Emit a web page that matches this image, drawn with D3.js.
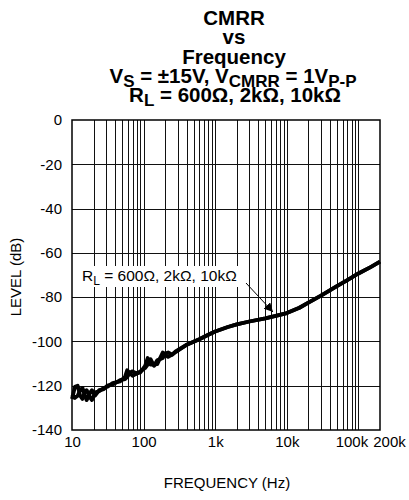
<!DOCTYPE html>
<html><head><meta charset="utf-8">
<script src="https://cdn.jsdelivr.net/npm/d3@7"></script>
<style>body{margin:0;background:#fff}svg{display:block;font-family:"Liberation Sans",Arial,sans-serif}</style>
</head><body><div id="chart"></div>
<script>
const freqHz = [10,11,12,13,14,15,16,18,19,21,24,28,31,37,47,55,59,65,70,80,90,105,114,125,140,155,170,185,200,220,250,280,400,600,800,1000,1500,2000,3000,5000,7000,10000,15000,20000,30000,50000,70000,100000,150000,200000];
const levelA = [-126,-120.5,-120,-124.5,-126,-123,-122,-125.5,-126.5,-123,-122.5,-121,-120.5,-118.8,-118,-116,-113,-114.5,-115.5,-114.5,-114,-111,-107.5,-110.5,-110.5,-110.3,-107.5,-105,-106,-107,-106,-104.5,-101.5,-99,-97,-95.5,-93.5,-92.3,-91,-89.6,-88.5,-87.2,-84.8,-82.5,-79.3,-75,-72.3,-69.3,-66.3,-64];
const levelB = [-124,-125.5,-124.5,-122,-121,-124,-126.5,-123,-122,-124.5,-122,-121.5,-120,-119.5,-117.5,-117,-116,-114,-113.5,-114.5,-113.5,-112,-110.5,-108,-111,-108.5,-108,-107.5,-105.5,-105,-106,-104.8,-101.5,-99,-97,-95.5,-93.5,-92.3,-91,-89.6,-88.5,-87.2,-84.8,-82.5,-79.3,-75,-72.3,-69.3,-66.3,-64];
const xTickValues = [10,100,1000,10000,100000,200000];
const xTickLabels = ["10","100","1k","10k","100k","200k"];
const yTickValues = [0,-20,-40,-60,-80,-100,-120,-140];
const titleLines = ["CMRR","vs","Frequency"];

const W=409,H=500;
const svg=d3.select("#chart").append("svg").attr("width",W).attr("height",H);
const x=d3.scaleLog().domain([10,200000]).range([72,380]);
const y=d3.scaleLinear().domain([-140,0]).range([430,120]);

// title
const tt=svg.append("g").attr("font-weight","bold").attr("font-size",20.5).attr("text-anchor","middle").attr("fill","#000");
titleLines.forEach((t,i)=>tt.append("text").attr("x",234).attr("y",25+i*19.3).text(t));
const t4=tt.append("text").attr("x",233).attr("y",83);
t4.append("tspan").text("V");
t4.append("tspan").attr("dy",4).attr("font-size",17).text("S");
t4.append("tspan").attr("dy",-4).text(" = ±15V, V");
t4.append("tspan").attr("dy",4).attr("font-size",17).text("CMRR");
t4.append("tspan").attr("dy",-4).text(" = 1V");
t4.append("tspan").attr("dy",4).attr("font-size",17).text("P-P");
const t5=tt.append("text").attr("x",235).attr("y",102);
t5.append("tspan").text("R");
t5.append("tspan").attr("dy",4).attr("font-size",17).text("L");
t5.append("tspan").attr("dy",-4).text(" = 600Ω, 2kΩ, 10kΩ");

// grid
const minor=[];
for(let d=10;d<=100000;d*=10){for(let k=1;k<=9;k++){const v=d*k;if(v>10&&v<200000)minor.push(v);}}
const g=svg.append("g");
g.selectAll("line.v").data(minor).enter().append("line")
 .attr("x1",d=>Math.round(x(d))+0.5).attr("x2",d=>Math.round(x(d))+0.5).attr("y1",y(0)).attr("y2",y(-140))
 .attr("stroke","#111").attr("stroke-width",1);
g.selectAll("line.h").data(yTickValues.filter(v=>v>-140&&v<0)).enter().append("line")
 .attr("x1",x(10)).attr("x2",x(200000)).attr("y1",d=>Math.round(y(d))+0.5).attr("y2",d=>Math.round(y(d))+0.5)
 .attr("stroke","#111").attr("stroke-width",1);
svg.append("rect").attr("x",x(10)).attr("y",y(0)).attr("width",x(200000)-x(10)).attr("height",y(-140)-y(0))
 .attr("fill","none").attr("stroke","#000").attr("stroke-width",1.5);

// axes
const yAxis=svg.append("g").attr("transform",`translate(${x(10)},0)`).call(d3.axisLeft(y).tickValues(yTickValues).tickSize(0).tickPadding(10).tickFormat(d=>d===0?"0":"-"+Math.abs(d)));
yAxis.select(".domain").remove();
yAxis.selectAll("text").attr("font-size",15).attr("font-family","Liberation Sans, Arial").attr("fill","#000");
const xAxis=svg.append("g").attr("transform",`translate(0,${y(-140)})`).call(d3.axisBottom(x).tickValues(xTickValues).tickSize(0).tickPadding(6).tickFormat((d,i)=>xTickLabels[i]));
xAxis.select(".domain").remove();
xAxis.selectAll("text").attr("font-size",15).attr("font-family","Liberation Sans, Arial").attr("fill","#000")
 .attr("dx",(d)=>d===100000?-7:d===200000?9:0);

svg.append("text").attr("x",227).attr("y",488).attr("text-anchor","middle").attr("font-size",15).text("FREQUENCY (Hz)");
svg.append("text").attr("transform","translate(21,277) rotate(-90)").attr("text-anchor","middle").attr("font-size",15).text("LEVEL (dB)");

// curves
const line=d3.line().x(d=>x(d[0])).y(d=>y(d[1]));
[levelA,levelB].forEach(arr=>{
 svg.append("path").datum(freqHz.map((f,i)=>[f,arr[i]])).attr("d",line)
  .attr("fill","none").attr("stroke","#000").attr("stroke-width",3.8).attr("stroke-linejoin","round");
});

// annotation
svg.append("rect").attr("x",77).attr("y",266).attr("width",169).attr("height",21).attr("fill","#fff");
const an=svg.append("text").attr("x",82).attr("y",281).attr("font-size",15.5).attr("fill","#000");
an.append("tspan").text("R");
an.append("tspan").attr("dy",4).attr("font-size",12).text("L");
an.append("tspan").attr("dy",-4).text(" = 600Ω, 2kΩ, 10kΩ");
svg.append("defs").append("marker").attr("id","ah").attr("viewBox","0 0 10 10").attr("refX",10).attr("refY",5)
 .attr("markerWidth",9).attr("markerHeight",9).attr("markerUnits","userSpaceOnUse").attr("orient","auto")
 .append("path").attr("d","M0,0L10,5L0,10Z").attr("fill","#000");
svg.append("line").attr("x1",246).attr("y1",283).attr("x2",273).attr("y2",312).attr("stroke","#000").attr("stroke-width",1).attr("marker-end","url(#ah)");
</script></body></html>
